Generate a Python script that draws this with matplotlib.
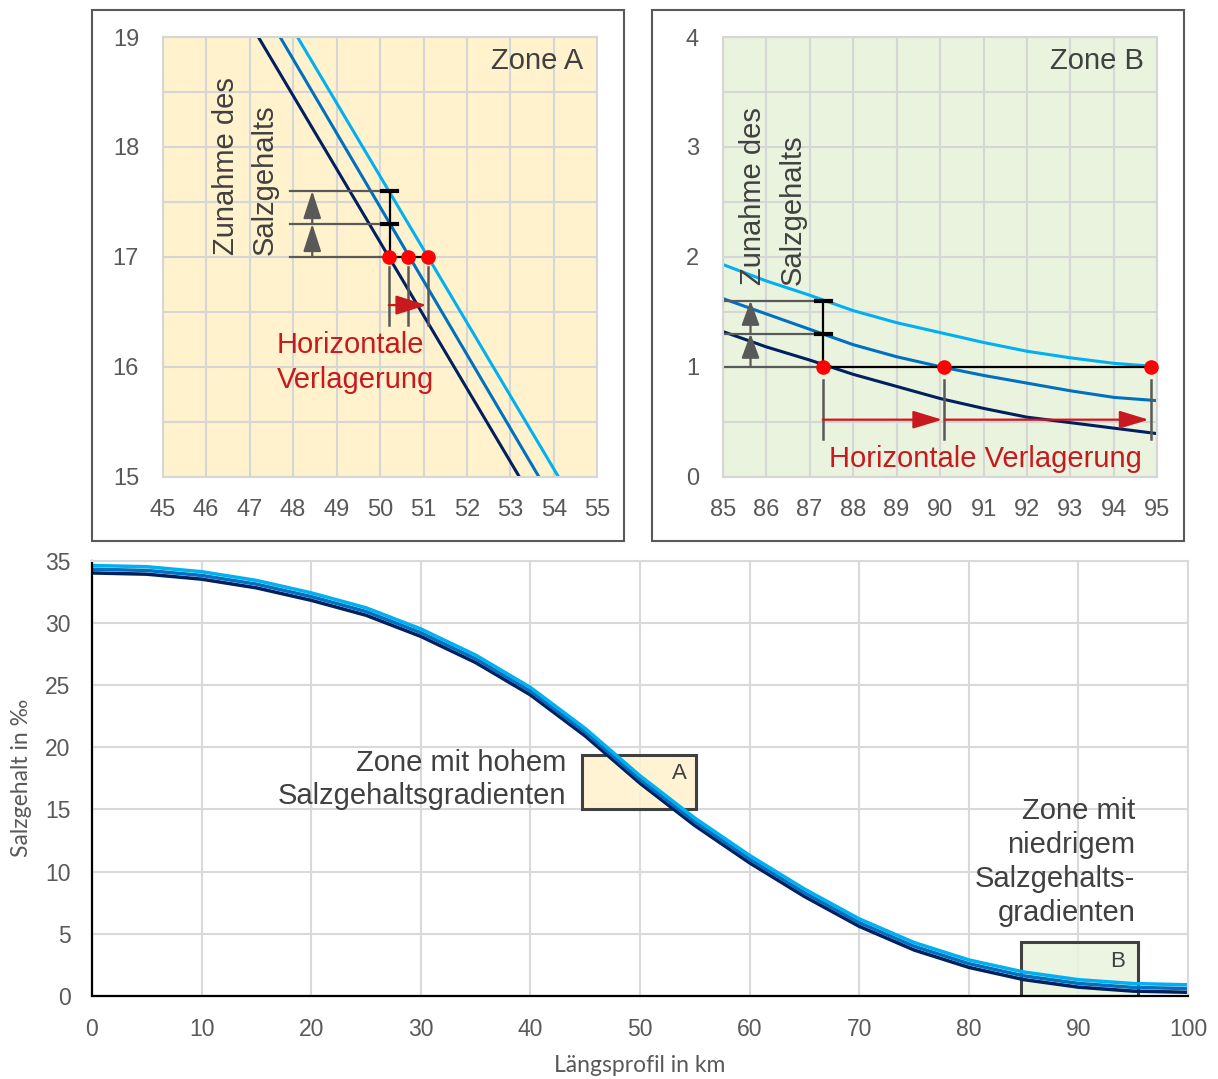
import matplotlib
matplotlib.use("Agg")
import matplotlib.pyplot as plt
from matplotlib.patches import Rectangle

plt.rcParams['font.family'] = ['Liberation Sans', 'DejaVu Sans']

# Längsprofil (Hauptdiagramm), Werte alle 5 km
km = [0, 5, 10, 15, 20, 25, 30, 35, 40, 45, 50, 55, 60, 65, 70, 75, 80, 85, 90, 95, 100]
salz_hell = [34.6, 34.5, 34.1, 33.4, 32.4, 31.2, 29.5, 27.4, 24.8, 21.5, 17.7, 14.3,
             11.3, 8.6, 6.2, 4.3, 2.9, 1.93, 1.31, 1.0, 0.9]
salz_mittel = [34.3, 34.2, 33.8, 33.1, 32.1, 30.9, 29.2, 27.1, 24.5, 21.2, 17.4, 14.0,
               11.0, 8.3, 5.9, 4.0, 2.6, 1.62, 1.01, 0.69, 0.6]
salz_dunkel = [34.0, 33.9, 33.5, 32.8, 31.8, 30.6, 28.9, 26.8, 24.2, 20.9, 17.1, 13.7,
               10.7, 8.0, 5.6, 3.7, 2.3, 1.32, 0.71, 0.39, 0.3]

# Zone A (Ausschnitt 45-55 km), Geraden zwischen 19 und 15 ‰
zone_a_y = [19, 15]
zone_a_dunkel = [47.2, 53.2]
zone_a_mittel = [47.7, 53.65]
zone_a_hell = [48.1, 54.1]
zone_a_stufen = [17.0, 17.3, 17.6]
zone_a_punkte = [50.2, 50.65, 51.1]

# Zone B (Ausschnitt 85-95 km)
zone_b_km = [85, 86, 87, 88, 89, 90, 91, 92, 93, 94, 95]
zone_b_hell = [1.93, 1.78, 1.65, 1.51, 1.40, 1.31, 1.22, 1.14, 1.08, 1.03, 1.00]
zone_b_mittel = [1.62, 1.48, 1.34, 1.20, 1.09, 1.00, 0.92, 0.85, 0.78, 0.72, 0.69]
zone_b_dunkel = [1.32, 1.18, 1.06, 0.93, 0.82, 0.71, 0.62, 0.54, 0.49, 0.44, 0.39]
zone_b_stufen = [1.0, 1.3, 1.6]
zone_b_punkte = [87.3, 90.1, 94.85]

c_dunkel = '#002060'
c_mittel = '#0070c0'
c_hell = '#00b0f0'
grau = '#595959'
text_grau = '#404040'
rot = '#c8191f'
punkt_rot = '#ff0000'
gitter = '#d6d6d6'

W, H = 1218, 1079
fig = plt.figure(figsize=(W / 100, H / 100), dpi=100)


def px_axes(l, t, r, b):
    return fig.add_axes([l / W, 1 - b / H, (r - l) / W, (b - t) / H])


def pfeil(ax, x0, y0, x1, y1, color, hl, hw, lw=1.6):
    ax.annotate('', xy=(x1, y1), xytext=(x0, y0),
                arrowprops=dict(arrowstyle=f'-|>,head_length={hl},head_width={hw}',
                                color=color, lw=lw, shrinkA=0, shrinkB=0,
                                mutation_scale=10))


def zone_style(ax, bg, x0, y0):
    ax.set_facecolor(bg)
    ax.set_xlim(x0, x0 + 10)
    ax.set_ylim(y0, y0 + 4)
    ax.set_xticks(range(x0, x0 + 11))
    ax.set_yticks(range(y0, y0 + 5))
    ax.set_yticks([y0 + 0.5 + i for i in range(4)], minor=True)
    ax.grid(True, which='both', color=gitter, lw=1.5)
    ax.set_axisbelow(True)
    for s in ax.spines.values():
        s.set_color(gitter)
        s.set_linewidth(1.5)
    ax.tick_params(which='both', length=0, labelsize=17, labelcolor=grau)
    ax.tick_params(axis='x', pad=16)
    ax.tick_params(axis='y', pad=17)


# Rahmen der beiden Ausschnitte
for l, r in [(92, 624), (652, 1184)]:
    fig.add_artist(Rectangle((l / W, 1 - 541 / H), (r - l) / W, 531 / H,
                             transform=fig.transFigure, fill=False,
                             ec=grau, lw=1.5))

# ---------- Zone A ----------
axA = px_axes(162.7, 37, 597.4, 476.5)
zone_style(axA, '#fff2cc', 45, 15)
axA.plot(zone_a_dunkel, zone_a_y, color=c_dunkel, lw=2.2)
axA.plot(zone_a_mittel, zone_a_y, color=c_mittel, lw=2.2)
axA.plot(zone_a_hell, zone_a_y, color=c_hell, lw=2.2)

for y in zone_a_stufen:
    axA.plot([47.93, 50.1], [y, y], color=grau, lw=1.6)
pfeil(axA, 48.44, zone_a_stufen[0], 48.44, zone_a_stufen[1], grau, 1.7, 0.55)
pfeil(axA, 48.44, zone_a_stufen[1], 48.44, zone_a_stufen[2], grau, 1.7, 0.55)
axA.plot([50.22, 50.22], [zone_a_stufen[0], zone_a_stufen[2]], color='black', lw=1.6)
for y in zone_a_stufen[1:]:
    axA.plot([50.05, 50.39], [y, y], color='black', lw=3)
axA.plot([zone_a_punkte[0], zone_a_punkte[-1]], [17, 17], color='black', lw=1.6)
for x in zone_a_punkte:
    axA.plot([x, x], [16.91, 16.38], color=grau, lw=1.8)
pfeil(axA, zone_a_punkte[0], 16.56, 51.07, 16.56, rot, 1.9, 0.6)
axA.plot(zone_a_punkte, [17] * 3, 'o', color=punkt_rot, ms=9.5, zorder=5)

axA.text(54.68, 18.78, 'Zone A', ha='right', va='center', fontsize=21, color=text_grau)
axA.text(47.63, 16.04, 'Horizontale\nVerlagerung', ha='left', va='center',
         fontsize=21, color=rot, linespacing=1.3)
axA.text(46.45, 17.02, 'Zunahme des', rotation=90, ha='center', va='bottom',
         fontsize=21, color=text_grau)
axA.text(47.35, 17.02, 'Salzgehalts', rotation=90, ha='center', va='bottom',
         fontsize=21, color=text_grau)

# ---------- Zone B ----------
axB = px_axes(722.7, 37, 1157.4, 476.5)
zone_style(axB, '#e9f3dd', 85, 0)
axB.plot(zone_b_km, zone_b_dunkel, color=c_dunkel, lw=2.2)
axB.plot(zone_b_km, zone_b_mittel, color=c_mittel, lw=2.2)
axB.plot(zone_b_km, zone_b_hell, color=c_hell, lw=2.2)

for y in zone_b_stufen:
    axB.plot([85.05, 87.3], [y, y], color=grau, lw=1.6)
axB.plot([zone_b_punkte[0], zone_b_punkte[-1]], [1, 1], color='black', lw=1.6)
pfeil(axB, 85.64, zone_b_stufen[0], 85.64, zone_b_stufen[1], grau, 1.5, 0.55)
pfeil(axB, 85.64, zone_b_stufen[1], 85.64, zone_b_stufen[2], grau, 1.5, 0.55)
axB.plot([87.3, 87.3], [zone_b_stufen[0], zone_b_stufen[2]], color='black', lw=1.6)
for y in zone_b_stufen[1:]:
    axB.plot([87.14, 87.48], [y, y], color='black', lw=3)
for x in zone_b_punkte:
    axB.plot([x, x], [0.877, 0.34], color=grau, lw=1.8)
pfeil(axB, zone_b_punkte[0], 0.517, 90.05, 0.517, rot, 1.8, 0.55)
pfeil(axB, zone_b_punkte[1], 0.517, 94.8, 0.517, rot, 1.8, 0.55)
axB.plot(zone_b_punkte, [1] * 3, 'o', color=punkt_rot, ms=9.5, zorder=5, clip_on=False)

axB.text(94.68, 3.78, 'Zone B', ha='right', va='center', fontsize=21, color=text_grau)
axB.text(87.45, 0.16, 'Horizontale Verlagerung', ha='left', va='center',
         fontsize=21, color=rot)
axB.text(85.7, 1.74, 'Zunahme des', rotation=90, ha='center', va='bottom',
         fontsize=21, color=text_grau)
axB.text(86.6, 1.74, 'Salzgehalts', rotation=90, ha='center', va='bottom',
         fontsize=21, color=text_grau)

# ---------- Hauptdiagramm ----------
ax = px_axes(92, 560.5, 1188, 996)
ax.set_xlim(0, 100)
ax.set_ylim(0, 35)
ax.set_xticks(range(0, 101, 10))
ax.set_yticks(range(0, 36, 5))
ax.grid(True, color='#d9d9d9', lw=1.5)
ax.set_axisbelow(True)
for s in ['top', 'right']:
    ax.spines[s].set_color('#d9d9d9')
    ax.spines[s].set_linewidth(1.5)
for s in ['left', 'bottom']:
    ax.spines[s].set_color('black')
    ax.spines[s].set_linewidth(1.6)
ax.tick_params(length=0, labelsize=16.5, labelcolor=grau)
ax.tick_params(axis='x', pad=16)
ax.tick_params(axis='y', pad=15.5)

ax.add_patch(Rectangle((44.7, 15), 10.4, 4.35, fc=(1.0, 0.949, 0.8, 0.85),
                       ec=text_grau, lw=2.2, zorder=1.5))
ax.add_patch(Rectangle((84.8, 0), 10.6, 4.3, fc=(0.914, 0.953, 0.867, 0.85),
                       ec=text_grau, lw=2.2, zorder=1.5))

ax.plot(km, salz_dunkel, color=c_dunkel, lw=2.5)
ax.plot(km, salz_mittel, color=c_mittel, lw=2.5)
ax.plot(km, salz_hell, color=c_hell, lw=2.5)

ax.text(53.6, 17.9, 'A', ha='center', va='center', fontsize=16, color=text_grau)
ax.text(93.6, 2.8, 'B', ha='center', va='center', fontsize=16, color=text_grau)
ax.text(43.25, 17.4, 'Zone mit hohem\nSalzgehaltsgradienten', ha='right', va='center',
        multialignment='right', fontsize=21, color=text_grau, linespacing=1.27)
ax.text(95.2, 10.75, 'Zone mit\nniedrigem\nSalzgehalts-\ngradienten', ha='right',
        va='center', multialignment='right', fontsize=21, color=text_grau,
        linespacing=1.27)

ax.set_xlabel('Längsprofil in km', fontsize=16.5, color=grau, family=['Lato', 'DejaVu Sans'],
              va='center')
ax.xaxis.set_label_coords(0.5, -0.16)
ax.set_ylabel('Salzgehalt in ‰', fontsize=16.5, color=grau, family=['Lato', 'DejaVu Sans'],
              va='center')
ax.yaxis.set_label_coords(-0.064, 0.5)

fig.savefig('out.png', dpi=100)
